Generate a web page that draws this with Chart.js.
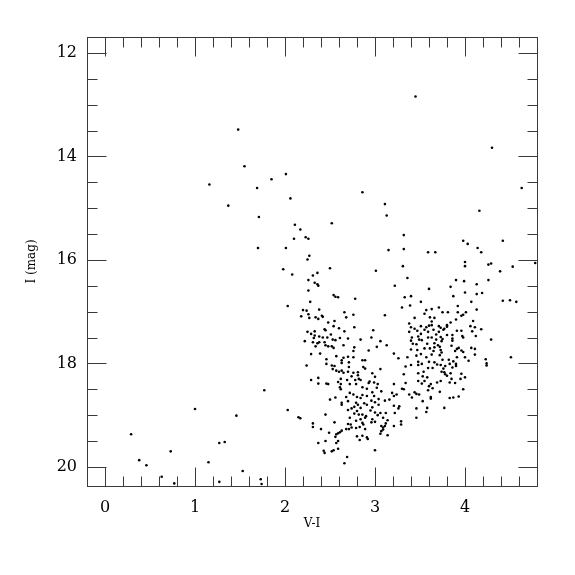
<!DOCTYPE html>
<html>
<head>
<meta charset="utf-8">
<script src="https://cdn.jsdelivr.net/npm/chart.js@4.4.1/dist/chart.umd.min.js"></script>
<style>
  html, body { margin: 0; padding: 0; background: #fff; }
  #wrap { width: 575px; height: 575px; }
</style>
</head>
<body>
<div id="wrap"><canvas id="cmd"></canvas></div>
<script>
// axis setup
const xRange = [-0.2, 4.8];
const yRange = [11.69, 20.37];
const xTicks = [0, 1, 2, 3, 4];
const yTicks = [12, 14, 16, 18, 20];
const xMinorStep = 0.2;
const yMinorStep = 0.5;

// [V-I, I]
const sparseStars = [
  [1.48,13.48],[1.55,14.19],[1.85,14.44],[2.01,14.34],[1.16,14.54],[1.69,14.61],[1.37,14.95],
  [1.71,15.17],[1.70,15.77],[2.01,15.77],[1.98,16.18],[1.77,18.52],[1.00,18.88],[1.46,19.01],
  [0.29,19.37],[1.27,19.54],[1.33,19.52],[0.73,19.70],[0.38,19.87],[0.46,19.97],[1.15,19.91],
  [1.53,20.08],[0.63,20.19],[0.77,20.32],[1.27,20.29],[1.73,20.24],[1.74,20.33],[2.03,18.90],
  [2.06,14.81],[2.86,14.69],[3.45,12.84],[4.30,13.83],[4.63,14.61],[4.16,15.05],[3.11,14.92],
  [3.13,15.14],[2.52,15.29]
];

const leftBranch = [
  [2.11,15.32],[2.17,15.41],[2.23,15.56],[2.26,15.59],[2.10,15.59],[3.15,15.81],[2.27,15.92],
  [2.25,15.99],[2.50,16.16],[3.01,16.21],[2.08,16.28],[2.36,16.25],[2.31,16.30],[2.26,16.39],
  [2.33,16.44],[2.36,16.47],[2.37,16.50],
  [2.26,16.59],[2.54,16.68],[2.56,16.71],[2.59,16.72],[2.78,16.75],[2.28,16.81],[2.03,16.89],
  [2.20,16.97],[2.24,16.98],[2.38,16.96],[2.66,17.01],[2.26,17.05],[2.76,17.06],[2.18,17.09],
  [2.27,17.12],[2.34,17.11],[2.37,17.14],[2.41,17.08],[2.42,17.10],[2.68,17.11],[2.55,17.18],
  [2.48,17.21],[2.54,17.28],[2.60,17.32],[2.77,17.30],[2.44,17.34],[2.45,17.36],[2.25,17.39],
  [2.33,17.38],[2.66,17.38],[2.29,17.43],[2.33,17.46],[2.51,17.44],[2.38,17.48],[2.32,17.51],
  [2.42,17.50],[2.47,17.50],[2.53,17.54],[2.56,17.55],[2.61,17.51],[2.70,17.52],[2.84,17.54],
  [2.22,17.57],[2.31,17.59],[2.36,17.61],[2.38,17.59],[2.44,17.59],[2.34,17.67],[2.45,17.65],
  [2.48,17.67],[2.52,17.67],[2.54,17.70],[2.65,17.65],[2.77,17.69],[2.76,17.76],[2.29,17.82],
  [2.39,17.81],[2.70,17.87],[2.65,17.89],[2.57,17.86],[2.76,17.88],[2.46,17.92],[2.63,17.94],
  [2.71,17.98],[2.63,17.99],[2.24,18.04],[2.46,18.01],[2.52,18.04],[2.55,18.05],[2.71,18.07],
  [2.53,18.11],[2.57,18.14],[2.60,18.16],[2.63,18.14],[2.65,18.18],[2.70,18.16],[2.76,18.18],
  [2.81,18.17],[2.87,18.07],[2.81,18.23],[2.74,18.25],[2.82,18.30],[2.29,18.32],[2.37,18.28],
  [2.62,18.30],[2.69,18.32],[2.78,18.32],[2.84,18.32],[2.37,18.39],[2.46,18.39],[2.48,18.40],
  [2.59,18.36],[2.72,18.40],[2.79,18.40],[2.62,18.40]
];

const lowerBranch = [
  [2.61,18.46],[2.62,18.50],[2.72,18.57],[2.76,18.60],[2.68,18.65],[2.80,18.65],[2.56,18.66],
  [2.50,18.70],[2.84,18.67],[2.70,18.73],[2.63,18.76],[2.63,18.80],[2.79,18.76],[2.81,18.80],
  [2.77,18.84],[2.74,18.87],[2.70,18.90],[2.80,18.92],[2.77,18.97],[2.82,18.99],[2.45,18.99],
  [2.15,19.04],[2.17,19.06],[2.72,19.05],[2.79,19.11],[2.55,19.14],[2.31,19.16],[2.70,19.17],
  [2.73,19.18],[2.31,19.23],[2.40,19.27],[2.68,19.27],[2.71,19.27],[2.74,19.24],[2.79,19.25],
  [2.63,19.30],[2.61,19.33],[2.49,19.34],[2.59,19.35],[2.57,19.37],[2.80,19.41],[2.56,19.42],
  [2.45,19.50],[2.59,19.50],[2.37,19.54],[2.57,19.54],[2.59,19.65],[2.54,19.68],[2.52,19.70],
  [2.43,19.69],[2.44,19.73],[2.69,19.81],[2.66,19.93]
];

const midBranch = [
  [3.59,15.85],[3.67,15.85],[3.31,16.12],[3.36,16.35],
  [3.22,16.50],[3.60,16.56],[3.33,16.72],[3.40,16.70],[3.51,16.81],[3.39,16.88],[3.30,16.92],
  [3.63,16.95],[3.57,16.97],[3.55,17.04],[3.11,17.07],[3.61,17.11],[3.66,17.12],[3.44,17.12],
  [3.63,17.19],[3.38,17.23],[3.40,17.30],[3.44,17.33],[3.51,17.28],[3.57,17.30],[3.60,17.27],
  [3.63,17.26],[3.71,17.28],[2.98,17.36],[3.38,17.39],[3.47,17.37],[3.55,17.35],[3.59,17.39],
  [3.65,17.35],[3.51,17.43],[3.68,17.44],[2.96,17.50],[3.41,17.50],[3.48,17.48],[3.59,17.50],
  [3.63,17.50],[3.06,17.57],[3.40,17.56],[3.49,17.54],[3.52,17.55],[3.68,17.54],[3.42,17.62],
  [3.46,17.63],[3.58,17.62],[3.66,17.61],[3.02,17.68],[3.13,17.65],[3.61,17.71],[3.66,17.69],
  [3.70,17.65],[3.40,17.73],[3.47,17.74],[3.55,17.71],[2.93,17.75],[3.65,17.76],[3.51,17.82],
  [3.63,17.83],[3.46,17.85],[3.21,17.81],[3.26,17.90],[3.36,17.88],[3.57,17.88],[2.86,17.94],
  [2.89,17.94],[3.48,17.97],[3.52,18.01],[3.60,17.97],[3.66,17.98],[3.69,18.02],[3.34,18.06],
  [3.40,18.03],[3.48,18.03],[2.89,18.10],[3.06,18.11],[3.59,18.09],[3.64,18.09],[3.54,18.16],
  [2.97,18.19],[3.32,18.21],[3.00,18.26],[3.48,18.19],[3.58,18.27],[3.53,18.25],[2.94,18.35],
  [2.93,18.38],[2.99,18.37],[3.03,18.40],[3.21,18.40],[3.52,18.39],[3.62,18.40],[3.55,18.34],
  [3.34,18.38],[3.48,18.34],[3.60,18.44],[3.69,18.37]
];

const faintTail = [
  [3.64,18.48],[2.86,18.46],[3.02,18.47],[2.91,18.49],[3.30,18.49],[3.32,18.50],[3.59,18.52],
  [3.07,18.54],[2.97,18.56],[3.19,18.57],[3.44,18.56],[3.46,18.59],[3.49,18.60],[2.86,18.61],
  [2.91,18.63],[2.99,18.63],[3.24,18.60],[3.21,18.63],[3.38,18.60],[3.62,18.65],[3.62,18.68],
  [3.41,18.66],[3.04,18.69],[2.96,18.72],[3.11,18.72],[3.16,18.70],[3.53,18.73],[3.00,18.75],
  [2.88,18.77],[2.91,18.80],[3.04,18.80],[3.21,18.82],[3.27,18.83],[3.26,18.87],[3.46,18.87],
  [3.58,18.86],[2.84,18.86],[2.97,18.85],[2.95,18.91],[3.00,18.95],[3.06,18.96],[3.12,18.96],
  [3.22,18.96],[3.57,18.94],[2.86,18.99],[2.90,19.02],[3.03,19.00],[3.09,19.05],[2.84,19.08],
  [2.89,19.05],[2.97,19.08],[3.00,19.13],[2.96,19.14],[3.14,19.10],[3.29,19.12],[3.46,19.05],
  [2.86,19.15],[2.87,19.18],[3.12,19.16],[3.29,19.18],[2.83,19.23],[3.07,19.21],[3.11,19.21],
  [3.21,19.21],[2.89,19.27],[3.09,19.24],[3.09,19.28],[3.07,19.31],[3.06,19.36],[2.86,19.40],
  [3.14,19.39],[2.91,19.43],[2.92,19.46],[2.83,19.48],[3.00,19.68]
];

const redBranch = [
  [3.32,15.52],[3.98,15.63],[4.03,15.69],[4.42,15.63],[4.14,15.77],[3.32,15.79],
  [4.18,15.85],[4.00,16.04],[4.00,16.12],[4.26,16.09],[4.29,16.07],[4.78,16.06],[4.53,16.13],
  [4.39,16.22],[3.90,16.39],[3.99,16.41],[4.26,16.39],[4.13,16.47],[3.84,16.52],[4.00,16.63],
  [4.13,16.66],[4.19,16.64],[3.87,16.70],[4.07,16.81],[4.42,16.79],[4.50,16.78],[4.57,16.81],
  [3.92,16.89],[4.13,16.96],[3.71,16.92],[3.75,17.01],[3.81,17.01],[3.92,17.01],[4.01,17.01],
  [3.96,17.08],[3.98,17.06],[3.90,17.15],[4.09,17.18],[3.84,17.21],[3.80,17.26],[3.77,17.33],
  [3.80,17.29],[4.06,17.28],[4.11,17.30],[4.18,17.34],
  [3.73,17.31],[3.76,17.35],[3.71,17.39],[3.91,17.37],[3.96,17.37],[4.08,17.38],[3.86,17.45],
  [3.80,17.45],[3.97,17.47],[3.98,17.50],[4.12,17.47],[3.73,17.49],[3.86,17.52],[3.75,17.53],
  [3.74,17.57],[3.86,17.56],[4.29,17.54],[3.85,17.66],[3.72,17.68],[3.91,17.72],[3.93,17.70],
  [3.96,17.75],[3.98,17.78],[3.89,17.76],[4.07,17.70],[4.11,17.72],[3.73,17.74],[3.74,17.79],
  [3.72,17.84],[4.11,17.83],[3.91,17.88],[4.00,17.88],[4.04,17.95],[3.82,17.93],[3.87,17.96],
  [3.75,17.93],[4.23,17.92],[4.51,17.88],[4.24,18.00],[4.24,18.04],[3.83,18.01],[3.90,18.01],
  [3.90,18.05],[3.86,18.08],[3.78,18.05],[3.73,18.03],[3.76,18.10],[3.74,18.16],[3.77,18.17],
  [3.78,18.21],[3.80,18.24],[3.84,18.19],[3.96,18.20],[4.00,18.27],[3.95,18.30],[3.85,18.30],
  [3.73,18.34],[3.83,18.37],[3.89,18.38],[3.98,18.50],[3.72,18.55],[3.93,18.64],[3.83,18.67],
  [3.87,18.66],[3.77,18.86]
];

const groups = [sparseStars, leftBranch, lowerBranch, midBranch, faintTail, redBranch];
const points = [];
groups.forEach(function (g) {
  g.forEach(function (p) { points.push({ x: p[0], y: p[1] }); });
});

const frameColor = '#3a3a3a';

// ticks drawn inward on all four sides, like the original plot
const frameTicks = {
  id: 'frameTicks',
  afterDraw(chart) {
    const ctx = chart.ctx;
    const a = chart.chartArea;
    const sx = chart.scales.x, sy = chart.scales.y;
    const L = Math.round(a.left) + 0.5, R = Math.round(a.right) + 0.5;
    const T = Math.round(a.top) + 0.5, B = Math.round(a.bottom) + 0.5;
    ctx.save();
    ctx.strokeStyle = frameColor;
    ctx.lineWidth = 1;
    ctx.strokeRect(L, T, R - L, B - T);
    ctx.beginPath();
    const nx = Math.round((xRange[1] - xRange[0]) / xMinorStep);
    for (let i = 1; i < nx; i++) {
      const v = xRange[0] + i * xMinorStep;
      const major = Math.abs(v - Math.round(v)) < 1e-6;
      const len = major ? 19 : 10;
      const px = Math.round(sx.getPixelForValue(v)) + 0.5;
      ctx.moveTo(px, B); ctx.lineTo(px, B - len);
      ctx.moveTo(px, T); ctx.lineTo(px, T + len);
    }
    const y0 = Math.ceil(yRange[0] / yMinorStep) * yMinorStep;
    for (let v = y0; v < yRange[1]; v += yMinorStep) {
      const major = Math.abs(v / 2 - Math.round(v / 2)) < 1e-6;
      const len = major ? 19 : 10;
      const py = Math.round(sy.getPixelForValue(v)) + 0.5;
      ctx.moveTo(L, py); ctx.lineTo(L + len, py);
      ctx.moveTo(R, py); ctx.lineTo(R - len, py);
    }
    ctx.stroke();
    ctx.restore();
  }
};

const serif = '"DejaVu Serif", "Liberation Serif", serif';

new Chart(document.getElementById('cmd'), {
  type: 'scatter',
  data: {
    datasets: [{
      data: points,
      pointRadius: 1.3,
      pointHoverRadius: 1.3,
      pointBackgroundColor: '#000',
      pointBorderWidth: 0
    }]
  },
  options: {
    responsive: true,
    maintainAspectRatio: false,
    animation: false,
    layout: { padding: { top: 37, right: 38, left: 0, bottom: 0 } },
    plugins: { legend: { display: false }, tooltip: { enabled: false } },
    scales: {
      x: {
        type: 'linear',
        min: xRange[0],
        max: xRange[1],
        grid: { display: false, drawTicks: false },
        border: { display: false },
        afterBuildTicks: function (s) { s.ticks = xTicks.map(function (v) { return { value: v }; }); },
        afterFit: function (s) { s.height = 89; },
        ticks: { color: '#000', padding: 12, font: { family: serif, size: 16 }, maxRotation: 0 },
        title: { display: true, text: 'V-I', color: '#000', font: { family: serif, size: 12 }, padding: { bottom: 44 } }
      },
      y: {
        type: 'linear',
        reverse: true,
        min: yRange[0],
        max: yRange[1],
        grid: { display: false, drawTicks: false },
        border: { display: false },
        afterBuildTicks: function (s) { s.ticks = yTicks.map(function (v) { return { value: v }; }); },
        afterFit: function (s) { s.width = 87; },
        ticks: { color: '#000', padding: 10, font: { family: serif, size: 16 } },
        title: { display: true, text: 'I (mag)', color: '#000', font: { family: serif, size: 12 }, padding: { top: 25 } }
      }
    }
  },
  plugins: [frameTicks]
});
</script>
</body>
</html>
